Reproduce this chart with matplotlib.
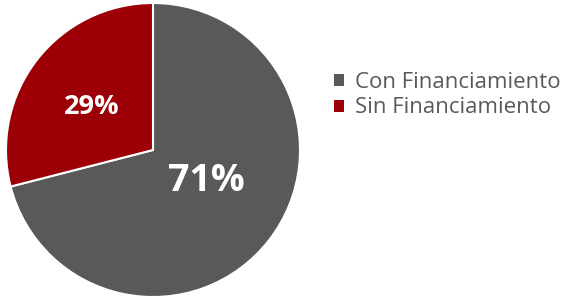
import matplotlib
matplotlib.use("Agg")
import matplotlib.pyplot as plt

labels = ["Con Financiamiento", "Sin Financiamiento"]
values = [71, 29]
colors = ["#595959", "#9c0006"]

fig = plt.figure(figsize=(5.68, 2.97), dpi=100)
ax = fig.add_axes([6 / 568, 0.0, 294 / 568, 294 / 297])

wedges, texts, pcts = ax.pie(
    values, colors=colors, startangle=90, counterclock=False,
    autopct="%1.0f%%", pctdistance=0.45,
    wedgeprops=dict(edgecolor="white", linewidth=1.5),
    textprops=dict(color="white", fontweight="bold", family=["Open Sans", "DejaVu Sans"]),
)
# label sizes / spots as in the original
pcts[0].set_fontsize(27)
pcts[0].set_position((0.36, -0.21))
pcts[1].set_fontsize(19.5)
pcts[1].set_position((-0.42, 0.29))
ax.set_xlim(-1, 1)
ax.set_ylim(-1, 1)
ax.set_aspect("equal")

leg = fig.legend(
    wedges, labels, loc="upper left", bbox_to_anchor=(314 / 568, 1 - 52 / 297),
    frameon=False, handlelength=0.45, handleheight=0.45, handletextpad=0.5,
    labelspacing=0.2, prop=dict(family="Open Sans", size=16),
)
for t in leg.get_texts():
    t.set_color("#595959")
for h in leg.legend_handles:
    h.set_edgecolor("none")

fig.savefig("out.png", dpi=100)
